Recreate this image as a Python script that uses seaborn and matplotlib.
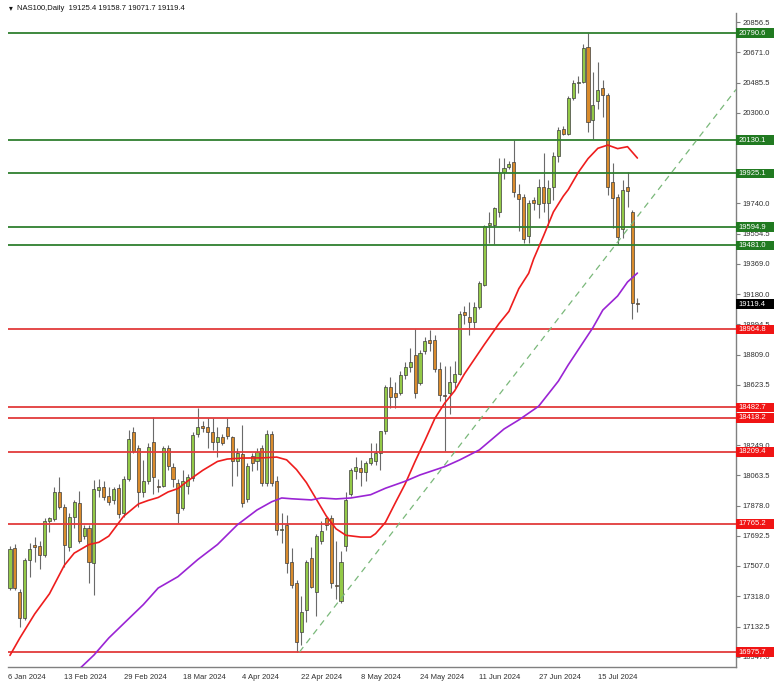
import matplotlib
matplotlib.use("Agg")
import matplotlib.pyplot as plt
import matplotlib.transforms as mtransforms
from matplotlib.patches import Rectangle
import numpy as np
import pandas as pd
import seaborn as sns

# ---------------- data ----------------
opens = [17370, 17616, 17346, 17185, 17540, 17635, 17630, 17573, 17783, 17795,
         17962, 17870, 17623, 17808, 17894, 17690, 17740, 17524, 17975, 17990,
         17940, 17912, 17986, 17832, 18042, 18332, 18233, 17962, 18027, 18270,
         17998, 18000, 18230, 18115, 18020, 17862, 18000, 18050, 18320, 18370,
         18360, 18330, 18270, 18300, 18360, 18300, 18150, 18195, 17920, 18185,
         18153, 18233, 18018, 18318, 18030, 17730, 17760, 17530, 17400, 17100,
         17235, 17555, 17345, 17660, 17800, 17800, 17390, 17290, 17628, 17950,
         18090, 18110, 18085, 18140, 18150, 18205, 18335, 18610, 18575, 18575,
         18680, 18735, 18805, 18634, 18830, 18900, 18900, 18720, 18560, 18575,
         18640, 18690, 19070, 19040, 19010, 19100, 19240, 19610, 19610, 19690,
         19935, 19965, 19995, 19800, 19780, 19540, 19760, 19735, 19840, 19745,
         19840, 20030, 20200, 20170, 20390, 20480, 20490, 20705, 20255, 20370,
         20450, 20410, 19870, 19780, 19585, 19840, 19685, 19125.4]
highs = [17628, 17640, 17364, 17555, 17647, 17684, 17660, 17800, 17808, 17993,
         18055, 17890, 17833, 17913, 17968, 17760, 17760, 18036, 18045, 18030,
         17990, 17995, 18010, 18060, 18344, 18360, 18250, 18160, 18265, 18425,
         18040, 18245, 18250, 18140, 18040, 18100, 18070, 18330, 18480, 18400,
         18420, 18420, 18360, 18320, 18420, 18310, 18230, 18375, 18140, 18200,
         18230, 18250, 18345, 18340, 18060, 17830, 17820, 17615, 17420, 17320,
         17545, 17620, 17700, 17780, 17810, 17820, 17660, 17600, 17960, 18110,
         18175, 18160, 18155, 18265, 18265, 18340, 18620, 18670, 18640, 18710,
         18760, 18850, 18965, 18840, 18920, 18960, 18930, 18760, 18740, 18740,
         18770, 19075, 19110, 19130, 19130, 19265, 19610, 19685, 19720, 20020,
         20020, 20000, 20130, 19860, 19800, 19760, 19780, 19890, 20050, 19885,
         20060, 20210, 20215, 20400, 20500, 20525, 20725, 20790, 20550, 20610,
         20500, 20420, 19990, 19800, 19885, 19935, 19700, 19158.7]
lows = [17358, 17360, 17130, 17175, 17438, 17530, 17490, 17560, 17715, 17780,
        17860, 17500, 17600, 17740, 17650, 17670, 17400, 17327, 17930, 17910,
        17880, 17890, 17800, 17810, 18030, 18200, 17870, 17930, 18010, 17950,
        17960, 17990, 18100, 17990, 17770, 17850, 17950, 18030, 18300, 18330,
        18235, 18220, 18180, 18250, 18290, 18000, 18060, 17870, 17900, 18090,
        18100, 18000, 18000, 18000, 17695, 17650, 17465, 17370, 16976, 17020,
        17160, 17370, 17200, 17640, 17730, 17370, 17300, 17280, 17600, 17940,
        18040, 18000, 18030, 18130, 18130, 18100, 18320, 18480, 18480, 18560,
        18660, 18700, 18540, 18620, 18810, 18830, 18700, 18520, 18215, 18440,
        18600, 18680, 19000, 18930, 18975, 19090, 19230, 19495, 19490, 19655,
        19890, 19950, 19780, 19570, 19495, 19495, 19700, 19650, 19685, 19600,
        19760, 19995, 20160, 20160, 20375, 20420, 20480, 20180, 20140, 20325,
        20275, 19795, 19590, 19490, 19525, 19720, 19025, 19071.7]
closes = [17610, 17370, 17185, 17543, 17610, 17623, 17573, 17783, 17800, 17962,
          17870, 17635, 17808, 17900, 17660, 17740, 17530, 17980, 17995, 17928,
          17900, 17980, 17826, 18042, 18288, 18215, 17962, 18027, 18240, 18055,
          17992, 18233, 18120, 18040, 17832, 18030, 18055, 18313, 18360, 18355,
          18330, 18270, 18300, 18265, 18310, 18150, 18200, 17895, 18125, 18140,
          18208, 18018, 18318, 18020, 17728, 17735, 17525, 17390, 17040, 17220,
          17530, 17375, 17690, 17720, 17760, 17400, 17380, 17530, 17913, 18095,
          18115, 18085, 18140, 18170, 18205, 18335, 18610, 18550, 18550, 18680,
          18730, 18760, 18570, 18820, 18890, 18880, 18720, 18560, 18555, 18640,
          18690, 19060, 19055, 19010, 19100, 19250, 19600, 19620, 19710, 19930,
          19960, 19985, 19810, 19770, 19520, 19745, 19740, 19840, 19745, 19835,
          20030, 20195, 20170, 20390, 20480, 20490, 20700, 20240, 20345, 20440,
          20410, 19840, 19775, 19535, 19820, 19815, 19125, 19119.4]

# moving averages (bar index, value)
ma20_bar = [0, 2, 5, 8, 11, 13, 16, 18, 20, 23, 26, 28, 30, 32, 34, 36, 39, 42, 44, 47,
            51, 54, 56, 58, 60, 62, 64, 66, 68, 71, 73, 74, 76, 78, 80, 82, 84, 86, 88,
            90, 92, 96, 99, 101, 103, 105, 106, 108, 110, 112, 113, 115, 117, 119, 121,
            123, 125, 127]
ma20_val = [16955, 17062, 17210, 17335, 17510, 17585, 17638, 17652, 17690, 17812, 17888,
            17910, 17928, 17962, 17983, 18030, 18095, 18150, 18165, 18171, 18172, 18177,
            18160, 18100, 18020, 17918, 17815, 17735, 17695, 17684, 17684, 17705, 17775,
            17895, 18012, 18150, 18280, 18415, 18510, 18585, 18690, 18870, 19000, 19075,
            19215, 19310, 19398, 19540, 19688, 19785, 19825, 19930, 20016, 20080, 20100,
            20078, 20090, 20020]
ma50_bar = [14, 17, 20, 24, 27, 30, 34, 38, 42, 46, 50, 53, 55, 57, 61, 63, 66, 69, 73,
            76, 80, 83, 88, 91, 95, 100, 103, 107, 111, 113, 118, 120, 123, 125, 127]
ma50_val = [16870, 16957, 17062, 17180, 17268, 17370, 17440, 17545, 17638, 17759, 17851,
            17902, 17925, 17920, 17913, 17925, 17919, 17925, 17945, 17985, 18028, 18067,
            18118, 18159, 18221, 18350, 18406, 18490, 18645, 18745, 18975, 19083, 19170,
            19256, 19311]

resistance_levels = [20790.6, 20130.1, 19925.1, 19594.9, 19481.0]
support_levels = [18964.8, 18482.7, 18418.2, 18209.4, 17765.2, 16975.7]
last_price = 19119.4

trend_bars = [58.6, 126]
trend_vals = [16975.7, 19620]

date_tick_bars = [11, 23, 35, 47, 59, 71, 83, 95, 107, 119]
date_tick_labels = ["13 Feb 2024", "29 Feb 2024", "18 Mar 2024", "4 Apr 2024",
                    "22 Apr 2024", "8 May 2024", "24 May 2024", "11 Jun 2024",
                    "27 Jun 2024", "15 Jul 2024"]
first_date_label = "6 Jan 2024"

# price-scale labels visible in the reference (those fully hidden by level boxes omitted)
price_ticks = [20856.5, 20671.0, 20485.5, 20300.0, 19740.0, 19554.5,
               19369.0, 19180.0, 18994.5, 18809.0, 18623.5, 18249.0, 18063.5,
               17878.0, 17692.5, 17507.0, 17318.0, 17132.5, 16947.0]
price_tick_labels = ["20856.5", "20671.0", "20485.5", "20300.0",
                     "19740.0", "19554.5", "19369.0", "19180.0", "18994.5", "18809.0",
                     "18623.5", "18249.0", "18063.5", "17878.0", "17692.5",
                     "17507.0", "17318.0", "17132.5", "16947.0"]

title_text = "NAS100,Daily  19125.4 19158.7 19071.7 19119.4"

# ---------------- styling ----------------
sns.set_style("white")
plt.rcParams['font.family'] = ['Liberation Sans', 'DejaVu Sans']

W, H = 774, 689
fig = plt.figure(figsize=(W / 100, H / 100), dpi=100)
ax_l, ax_r, ax_t, ax_b = 8, 736, 13, 667
ax = fig.add_axes([ax_l / W, (H - ax_b) / H, (ax_r - ax_l) / W, (ax_b - ax_t) / H])

df = pd.DataFrame({"o": opens, "h": highs, "l": lows, "c": closes})
df["bar"] = np.arange(len(df))
bull = df["c"] >= df["o"]
bottoms = np.minimum(df["o"], df["c"])
heights = np.maximum(np.abs(df["c"] - df["o"]), 5)
colors = np.where(bull, "#93c947", "#d98b2c")

ax.vlines(df["bar"], df["l"], df["h"], colors="#6a6a6a", linewidth=0.8, zorder=2)
ax.bar(df["bar"], heights, bottom=bottoms, width=0.62, color=colors,
       edgecolor="#3d3d3d", linewidth=0.5, zorder=3)

for v in resistance_levels:
    ax.axhline(v, color="#2f7f2f", linewidth=1.3, zorder=4)
for v in support_levels:
    ax.axhline(v, color="#e23a3a", linewidth=1.3, zorder=4)

xmin, xmax = -0.4, 146.96
slope = (trend_vals[1] - trend_vals[0]) / (trend_bars[1] - trend_bars[0])
ax.plot([trend_bars[0], xmax], [trend_vals[0], trend_vals[0] + slope * (xmax - trend_bars[0])],
        linestyle=(0, (5, 4)), color="#7ab87a", linewidth=0.9, zorder=4)

ma20 = pd.DataFrame({"bar": ma20_bar, "val": ma20_val})
ma50 = pd.DataFrame({"bar": ma50_bar, "val": ma50_val})
sns.lineplot(data=ma20, x="bar", y="val", ax=ax, color="#ee1d1d", linewidth=1.2,
             zorder=5, estimator=None, sort=False)
sns.lineplot(data=ma50, x="bar", y="val", ax=ax, color="#9a24d4", linewidth=1.2,
             zorder=5, estimator=None, sort=False)

ppx = 6.163  # price per pixel
ax.set_xlim(xmin, xmax)
ax.set_ylim(20994.0 - ppx * ax_b, 20994.0 - ppx * ax_t)
ax.set_xlabel("")
ax.set_ylabel("")

for s in ["top", "left"]:
    ax.spines[s].set_visible(False)
for s in ["right", "bottom"]:
    ax.spines[s].set_color("#808080")
    ax.spines[s].set_linewidth(1.0)

ax.yaxis.tick_right()
ax.set_yticks(price_ticks)
ax.set_yticklabels(price_tick_labels)
ax.tick_params(axis="y", direction="out", length=3, width=0.8, pad=1.5,
               labelsize=5.5, color="#808080", labelcolor="#303030")
ax.set_xticks(date_tick_bars)
ax.set_xticklabels(date_tick_labels, ha="left")
ax.tick_params(axis="x", direction="out", length=3, width=0.8, pad=2,
               labelsize=5.5, color="#808080", labelcolor="#303030")
ax.text(xmin + 0.1, -0.011, first_date_label, transform=mtransforms.blended_transform_factory(
    ax.transData, ax.transAxes), ha="left", va="top", fontsize=5.5, color="#303030",
    clip_on=False)

# price labels on the axis
blend = mtransforms.blended_transform_factory(ax.transAxes, ax.transData)
axw = ax_r - ax_l
box_h = 9.5 * ppx

def price_box(v, fc):
    ax.add_patch(Rectangle((1.0, v - box_h / 2), 38 / axw, box_h, transform=blend,
                           facecolor=fc, edgecolor="none", clip_on=False, zorder=10))
    ax.text(1.0 + 2.5 / axw, v, f"{v:.1f}", transform=blend, ha="left", va="center",
            fontsize=5.5, color="white", clip_on=False, zorder=11)

for v in resistance_levels:
    price_box(v, "#217a21")
for v in support_levels:
    price_box(v, "#f01414")
price_box(last_price, "#000000")

fig.text(9 / W, 1 - 8 / H, "\u25be", fontsize=5.5, ha="left", va="center",
         family=["DejaVu Sans"], color="#111111")
fig.text(17 / W, 1 - 8 / H, title_text, fontsize=5.5, ha="left", va="center",
         color="#111111")

fig.savefig("out.png", dpi=100)
